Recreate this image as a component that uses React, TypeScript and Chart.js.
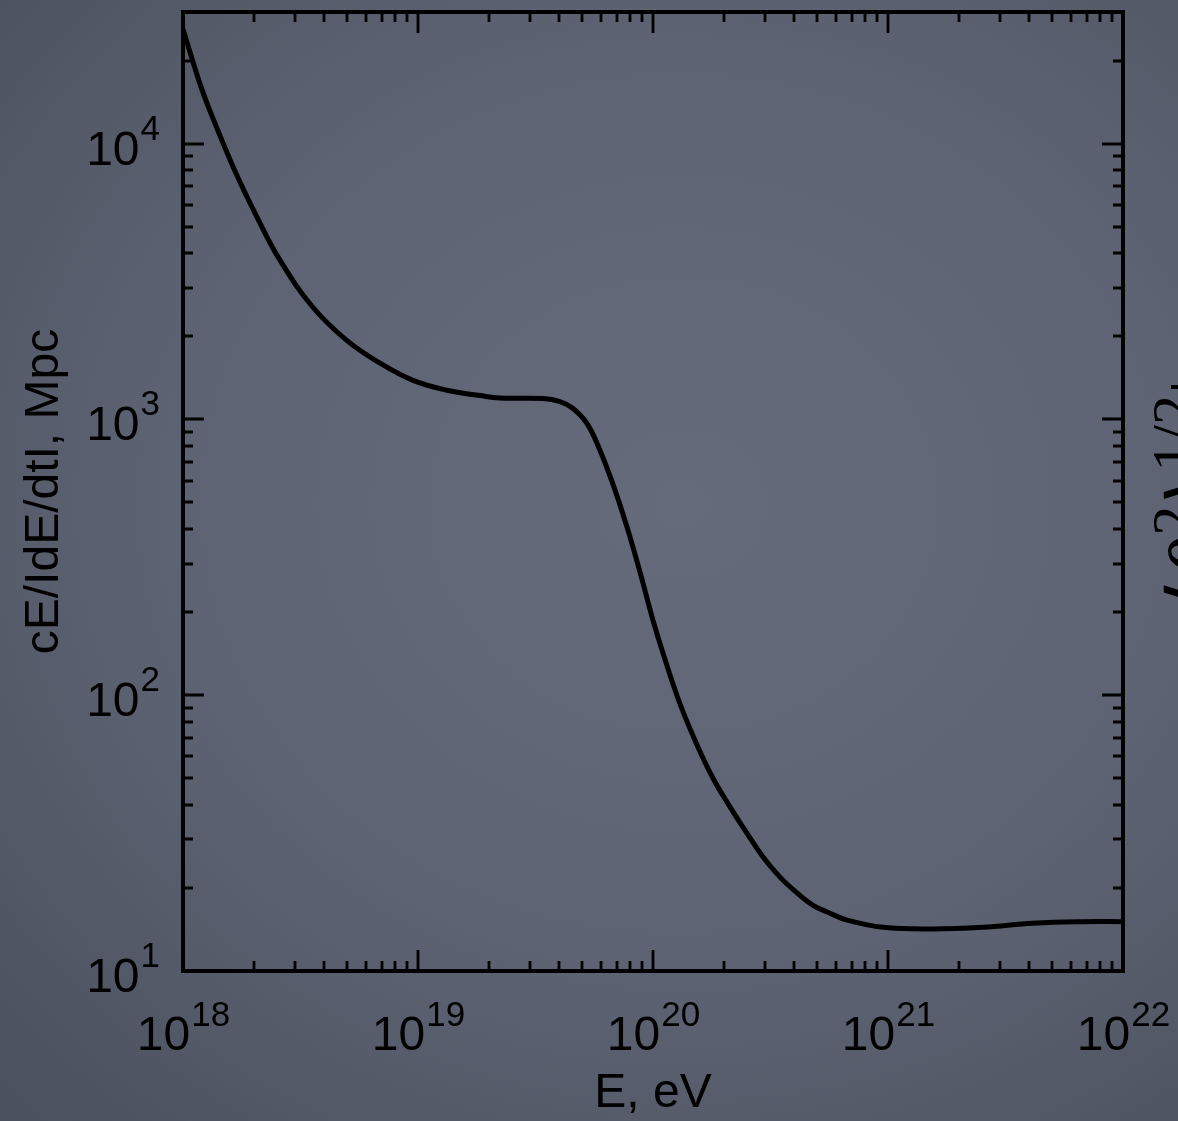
import React, { useEffect, useRef } from "react";
import { Chart, registerables } from "chart.js";

Chart.register(...registerables);

// Energy E in eV (x) and energy-loss length cE/|dE/dt| in Mpc (y)
const energyEV = [
  1.0e18, 1.18e18, 1.3e18, 1.64e18, 2.06e18, 2.59e18, 3.57e18, 4.99e18, 6.89e18, 9.53e18,
  1.33e19, 1.84e19, 2.23e19, 3.4e19, 4.02e19, 4.57e19, 5.24e19, 5.94e19, 6.76e19,
  7.74e19, 8.81e19, 1.0e20, 1.1e20, 1.3e20, 1.54e20, 1.8e20, 2.13e20, 2.51e20,
  2.94e20, 3.47e20, 4.1e20, 4.8e20, 5.66e20, 6.7e20, 9.53e20, 1.55e21, 2.54e21,
  4.14e21, 6.76e21, 1.0e22,
];
const lengthMpc = [
  26000, 16500, 13200, 8180, 5440, 3770, 2550, 1930, 1600, 1385,
  1275, 1220, 1195, 1190, 1160, 1095, 965, 775, 581,
  409, 279, 187, 143, 93.5, 66, 50, 39.3, 31.6,
  25.9, 21.9, 19.2, 17.3, 16.2, 15.3, 14.4, 14.2, 14.4,
  14.9, 15.1, 15.1,
];

const xMajorTicks = [1e18, 1e19, 1e20, 1e21, 1e22];
const xTickExponents = ["18", "19", "20", "21", "22"];
const yMajorTicks = [1e1, 1e2, 1e3, 1e4];
const yTickExponents = ["1", "2", "3", "4"];
const minorMultipliers = [2, 3, 4, 5, 6, 7, 8, 9];
const xMin = 1e18;
const xMax = 1e22;
const yMin = 10;
const yMax = 3e4;
const xTitle = "E, eV";
const yTitle = "cE/IdE/dtI, Mpc";

const SANS = '"Liberation Sans", Arial, Helvetica, sans-serif';
const SERIF = '"Liberation Serif", "Times New Roman", serif';

const framePlugin = {
  id: "framePlugin",
  afterDatasetsDraw(chart: any) {
    const { ctx, chartArea, scales } = chart;
    const { left, right, top, bottom } = chartArea;
    const xs = scales.x;
    const ys = scales.y;
    ctx.save();
    ctx.strokeStyle = "#000";
    ctx.fillStyle = "#000";

    // inward ticks on all four sides
    const majorLen = 21;
    const minorLen = 10;
    ctx.lineWidth = 2.8;
    ctx.lineCap = "butt";
    const tickX = (v: number, len: number) => {
      const p = Math.round(xs.getPixelForValue(v));
      ctx.beginPath();
      ctx.moveTo(p, bottom);
      ctx.lineTo(p, bottom - len);
      ctx.moveTo(p, top);
      ctx.lineTo(p, top + len);
      ctx.stroke();
    };
    const tickY = (v: number, len: number) => {
      const p = Math.round(ys.getPixelForValue(v));
      ctx.beginPath();
      ctx.moveTo(left, p);
      ctx.lineTo(left + len, p);
      ctx.moveTo(right, p);
      ctx.lineTo(right - len, p);
      ctx.stroke();
    };
    xMajorTicks.forEach((v) => {
      tickX(v, majorLen);
      minorMultipliers.forEach((m) => {
        const mv = v * m;
        if (mv < xMax) tickX(mv, minorLen);
      });
    });
    yMajorTicks.forEach((v) => {
      tickY(v, majorLen);
      minorMultipliers.forEach((m) => {
        const mv = v * m;
        if (mv < yMax) tickY(mv, minorLen);
      });
    });

    // frame
    ctx.lineWidth = 4;
    ctx.strokeRect(left, top, right - left, bottom - top);

    // x tick labels
    const mainFont = `48px ${SANS}`;
    const supFont = `35px ${SANS}`;
    ctx.textBaseline = "alphabetic";
    xMajorTicks.forEach((v, i) => {
      const p = xs.getPixelForValue(v);
      ctx.font = mainFont;
      const w1 = ctx.measureText("10").width;
      ctx.font = supFont;
      const w2 = ctx.measureText(xTickExponents[i]).width;
      const start = p - (w1 + w2) / 2;
      ctx.textAlign = "left";
      ctx.font = mainFont;
      ctx.fillText("10", start, bottom + 79);
      ctx.font = supFont;
      ctx.fillText(xTickExponents[i], start + w1 + 1, bottom + 55);
    });

    // y tick labels
    yMajorTicks.forEach((v, i) => {
      const p = ys.getPixelForValue(v);
      const rightEdge = left - 23;
      ctx.font = supFont;
      const w2 = ctx.measureText(yTickExponents[i]).width;
      ctx.textAlign = "right";
      ctx.fillText(yTickExponents[i], rightEdge, p - 4);
      ctx.font = mainFont;
      ctx.fillText("10", rightEdge - w2 - 1, p + 21);
    });

    // axis titles
    ctx.font = mainFont;
    ctx.textAlign = "center";
    ctx.fillText(xTitle, (left + right) / 2, bottom + 136);
    ctx.save();
    ctx.translate(58, (top + bottom) / 2);
    ctx.rotate(-Math.PI / 2);
    ctx.fillText(yTitle, 0, 0);
    ctx.restore();

    // neighbouring panel fragment (clipped at the page edge)
    ctx.lineWidth = 4;
    ctx.beginPath();
    ctx.moveTo(1171, 387);
    ctx.lineTo(1178, 387);
    ctx.stroke();
    ctx.save();
    ctx.translate(1229, 612);
    ctx.rotate(-Math.PI / 2);
    ctx.textAlign = "left";
    let cx = 0;
    ctx.font = `86px ${SERIF}`;
    ctx.fillText("\u27E8", cx, 0);
    cx += ctx.measureText("\u27E8").width;
    ctx.font = `italic 86px ${SERIF}`;
    ctx.fillText("\u03B8", cx, 0);
    cx += ctx.measureText("\u03B8").width;
    ctx.font = `60px ${SERIF}`;
    ctx.fillText("2", cx, -36);
    cx += ctx.measureText("2").width;
    ctx.font = `86px ${SERIF}`;
    ctx.fillText("\u27E9", cx, 0);
    cx += ctx.measureText("\u27E9").width;
    ctx.font = `60px ${SERIF}`;
    ctx.fillText("1/2", cx, -36);
    ctx.restore();

    ctx.restore();
  },
};

export default function App() {
  const canvasRef = useRef<HTMLCanvasElement | null>(null);

  useEffect(() => {
    if (!canvasRef.current) return;
    const points = energyEV.map((e, i) => ({ x: e, y: lengthMpc[i] }));
    const chart = new Chart(canvasRef.current, {
      type: "line",
      data: {
        datasets: [
          {
            data: points,
            borderColor: "#000",
            borderWidth: 5,
            pointRadius: 0,
            fill: false,
            tension: 0.4,
            borderCapStyle: "round",
            borderJoinStyle: "round",
          },
        ],
      },
      options: {
        animation: false,
        responsive: false,
        maintainAspectRatio: false,
        devicePixelRatio: 1,
        layout: { padding: { left: 183, right: 55, top: 12, bottom: 150 } },
        plugins: { legend: { display: false }, tooltip: { enabled: false } },
        scales: {
          x: { type: "logarithmic", min: xMin, max: xMax, display: false },
          y: { type: "logarithmic", min: yMin, max: yMax, display: false },
        },
      },
      plugins: [framePlugin],
    } as any);
    return () => chart.destroy();
  }, []);

  return (
    <div
      style={{
        position: "absolute",
        left: 0,
        top: 0,
        width: 1178,
        height: 1121,
        overflow: "hidden",
        background:
          "radial-gradient(ellipse 80% 75% at 58% 45%, #656b7a 0%, #5d6372 55%, #4c515f 100%)",
      }}
    >
      <canvas ref={canvasRef} width={1178} height={1121} style={{ display: "block", width: 1178, height: 1121 }} />
    </div>
  );
}
